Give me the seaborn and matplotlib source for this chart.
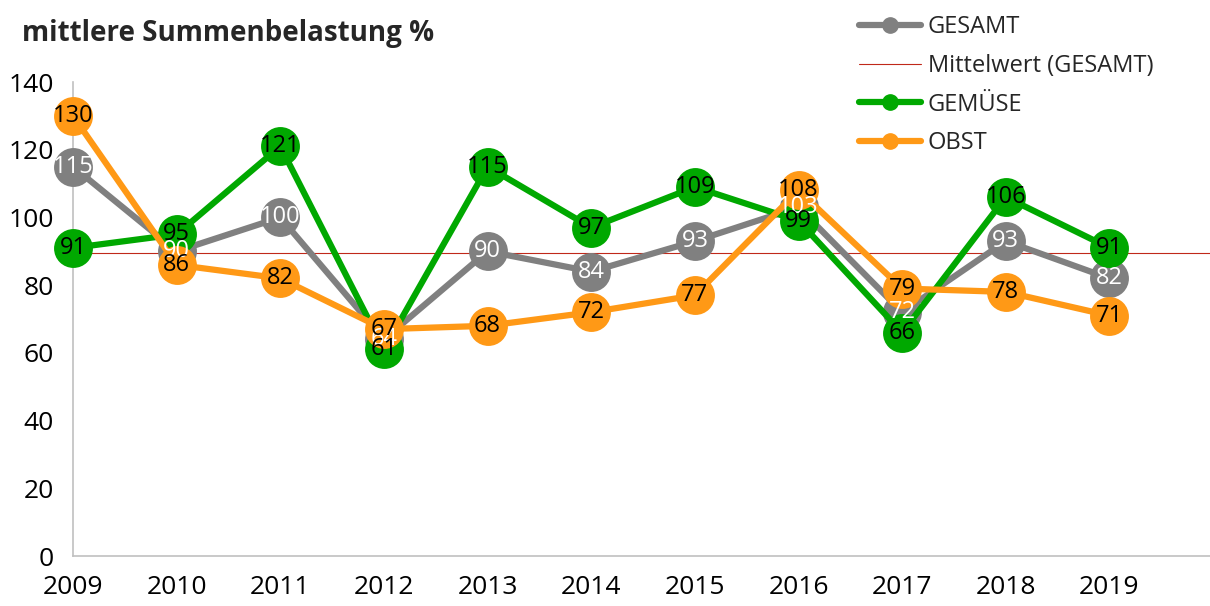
import matplotlib
matplotlib.use("Agg")
import matplotlib.pyplot as plt
from matplotlib.lines import Line2D
import seaborn as sns
import pandas as pd
import numpy as np

years = [2009, 2010, 2011, 2012, 2013, 2014, 2015, 2016, 2017, 2018, 2019]
gesamt = [115, 90, 100, 64, 90, 84, 93, 103, 72, 93, 82]
gemuese = [91, 95, 121, 61, 115, 97, 109, 99, 66, 106, 91]
obst = [130, 86, 82, 67, 68, 72, 77, 108, 79, 78, 71]
mittelwert = float(np.mean(gesamt))

sns.set_theme(style="white")
plt.rcParams['font.family'] = ['Open Sans', 'DejaVu Sans']

c_gray = '#808080'
c_green = '#00a800'
c_orange = '#ff9916'
c_red = '#c0281a'

fig = plt.figure(figsize=(12.1, 6.06), dpi=100)
ax = fig.add_axes([73/1210, 1-556/606, 1-73/1210, (556-82)/606])

df = pd.DataFrame({'Jahr': years, 'GESAMT': gesamt, 'GEMÜSE': gemuese, 'OBST': obst})

for col, c in [('GESAMT', c_gray), ('GEMÜSE', c_green), ('OBST', c_orange)]:
    sns.lineplot(data=df, x='Jahr', y=col, ax=ax, color=c, linewidth=4.5,
                 marker='o', markersize=28, markeredgewidth=0, zorder=3)

ax.axhline(mittelwert, color=c_red, linewidth=0.8, zorder=2)

for col, tc in [('GESAMT', 'white'), ('GEMÜSE', 'black'), ('OBST', 'black')]:
    for x, y in zip(df['Jahr'], df[col]):
        ax.text(x, y, str(y), ha='center', va='center', fontsize=17, color=tc, zorder=5)

ax.set_xlim(2009, 2019.97)
ax.set_ylim(0, 140)
ax.set_xticks(years)
ax.set_xticklabels([str(y) for y in years])
ax.set_yticks(range(0, 141, 20))
ax.set_xlabel('')
ax.set_ylabel('')
for s in ['top', 'right']:
    ax.spines[s].set_visible(False)
for s in ['left', 'bottom']:
    ax.spines[s].set_color('#c0c0c0')
    ax.spines[s].set_linewidth(1.2)
ax.tick_params(axis='both', which='major', labelsize=19, colors='black',
               length=6, width=1.2, color='#c0c0c0', direction='out')
ax.tick_params(axis='x', pad=8)
ax.tick_params(axis='y', pad=8)
for l in ax.lines:
    l.set_clip_on(False)

fig.text(22/1210, 1-33/606, 'mittlere Summenbelastung %', fontsize=20,
         fontweight='bold', ha='left', va='center')

handles = [
    Line2D([], [], color=c_gray, linewidth=4.5, marker='o', markersize=11),
    Line2D([], [], color=c_red, linewidth=0.8),
    Line2D([], [], color=c_green, linewidth=4.5, marker='o', markersize=11),
    Line2D([], [], color=c_orange, linewidth=4.5, marker='o', markersize=11),
]
labels = ['GESAMT', 'Mittelwert (GESAMT)', 'GEMÜSE', 'OBST']
fig.legend(handles, labels, loc='upper left', bbox_to_anchor=(838/1210, 1.0+6/606),
           frameon=False, fontsize=17, handlelength=2.6, labelspacing=0.62,
           handletextpad=0.3)

fig.savefig('out.png', dpi=100)
